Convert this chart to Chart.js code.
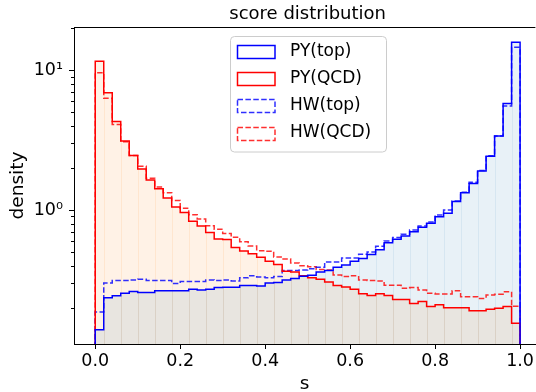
<!DOCTYPE html>
<html>
<head>
<meta charset="utf-8">
<style>
  html, body { margin: 0; padding: 0; background: #fff; }
  #wrap { width: 536px; height: 392px; }
</style>
<script src="https://cdn.jsdelivr.net/npm/chart.js@4.4.1/dist/chart.umd.min.js"></script>
</head>
<body>
<div id="wrap"><canvas id="scoreChart" width="536" height="392"></canvas></div>
<script>
// ------- histogram data: 50 bins of width 0.02 on [0, 1] -------

const binLow = 0.0;
const binWidth = 0.02;

const pyTop = [
    0.139, 0.236, 0.244, 0.254, 0.261, 0.257, 0.257, 0.264, 0.264, 0.264,
    0.264, 0.271, 0.268, 0.271, 0.279, 0.280, 0.280, 0.288, 0.288, 0.286,
    0.300, 0.303, 0.316, 0.323, 0.336, 0.342, 0.360, 0.369, 0.390, 0.405,
    0.430, 0.450, 0.480, 0.520, 0.584, 0.618, 0.652, 0.700, 0.752, 0.803,
    0.896, 0.947, 1.15, 1.33, 1.55, 1.90, 2.43, 3.39, 5.78, 15.9
];
const pyQcd = [
    11.6, 6.9, 4.3, 3.12, 2.46, 1.97, 1.64, 1.42, 1.22, 1.05,
    0.96, 0.83, 0.77, 0.69, 0.62, 0.615, 0.54, 0.51, 0.487, 0.46,
    0.43, 0.407, 0.365, 0.36, 0.338, 0.327, 0.32, 0.306, 0.288, 0.281,
    0.271, 0.252, 0.245, 0.252, 0.245, 0.229, 0.229, 0.214, 0.222, 0.204,
    0.21, 0.20, 0.20, 0.20, 0.19, 0.19, 0.195, 0.198, 0.204, 0.155
];
const hwTop = [
    0.186, 0.300, 0.313, 0.313, 0.316, 0.320, 0.313, 0.313, 0.313, 0.298,
    0.308, 0.308, 0.308, 0.316, 0.313, 0.316, 0.311, 0.327, 0.338, 0.332,
    0.327, 0.334, 0.369, 0.369, 0.373, 0.380, 0.390, 0.425, 0.425, 0.454,
    0.454, 0.483, 0.500, 0.550, 0.600, 0.635, 0.670, 0.720, 0.770, 0.820,
    0.920, 1.00, 1.16, 1.34, 1.58, 1.92, 2.45, 3.39, 5.55, 14.6
];
const hwQcd = [
    9.6, 6.3, 4.1, 3.08, 2.46, 2.06, 1.69, 1.46, 1.33, 1.17,
    1.03, 0.926, 0.862, 0.772, 0.728, 0.68, 0.638, 0.594, 0.553, 0.512,
    0.507, 0.462, 0.447, 0.418, 0.40, 0.392, 0.375, 0.373, 0.343, 0.334,
    0.338, 0.316, 0.313, 0.311, 0.29, 0.29, 0.276, 0.279, 0.268, 0.254,
    0.251, 0.251, 0.264, 0.24, 0.24, 0.233, 0.247, 0.25, 0.26, 0.205
];

const seriesLabels = ['PY(top)', 'PY(QCD)', 'HW(top)', 'HW(QCD)'];

const xTickValues = [0.0, 0.2, 0.4, 0.6, 0.8, 1.0];
const yTickValues = [1, 10];
const yTickLabels = ['10⁰', '10¹'];
const yMinorValues = [0.2, 0.3, 0.4, 0.5, 0.6, 0.7, 0.8, 0.9, 2, 3, 4, 5, 6, 7, 8, 9, 20];

const FONT = 'DejaVu Sans';
const BLUE = '#0000ff';
const RED = '#ff0000';
const BLUE_FILL = 'rgba(31,119,180,0.1)';
const ORANGE_FILL = 'rgba(255,127,14,0.1)';
const FLOOR = 0.01; // below the axis, closes the outline at the bottom

// histogram outline: up at the first edge, steps across, down at the last edge
function stepOutline(values) {
    const pts = [{x: binLow, y: FLOOR}];
    values.forEach((v, i) => {
        pts.push({x: binLow + i * binWidth, y: v});
        pts.push({x: binLow + (i + 1) * binWidth, y: v});
    });
    pts.push({x: binLow + values.length * binWidth, y: FLOOR});
    return pts;
}

function lineSet(label, values, color, dashed, fillColor) {
    return {
        label: label,
        data: stepOutline(values),
        borderColor: dashed ? color + 'd0' : color,
        borderWidth: 1.5,
        borderDash: dashed ? [5.5, 2.4] : [],
        borderJoinStyle: 'miter',
        pointRadius: 0,
        tension: 0,
        fill: fillColor ? 'start' : false,
        backgroundColor: fillColor || 'transparent'
    };
}

// faint seams between the filled bars (every other bin edge shows)
const seamPlugin = {
    id: 'seams',
    beforeDatasetsDraw(chart) {
        const {ctx, chartArea, scales: {x, y}} = chart;
        ctx.save();
        ctx.beginPath();
        ctx.rect(chartArea.left, chartArea.top, chartArea.right - chartArea.left, chartArea.bottom - chartArea.top);
        ctx.clip();
        ctx.lineWidth = 1;
        [[pyTop, 'rgba(31,119,180,0.09)'], [pyQcd, 'rgba(255,127,14,0.1)']].forEach(([vals, col]) => {
            ctx.strokeStyle = col;
            for (let k = 1; k < vals.length; k += 2) {
                const px = Math.round(x.getPixelForValue(binLow + k * binWidth)) + 0.5;
                const top = y.getPixelForValue(Math.min(vals[k - 1], vals[k]));
                ctx.beginPath();
                ctx.moveTo(px, chartArea.bottom);
                ctx.lineTo(px, top);
                ctx.stroke();
            }
        });
        ctx.restore();
    }
};

// title, top spine, minor log ticks and the legend box
const decorPlugin = {
    id: 'decor',
    afterDraw(chart) {
        const {ctx, chartArea, scales: {x, y}} = chart;
        ctx.save();

        // top spine
        ctx.strokeStyle = '#000';
        ctx.lineWidth = 1;
        ctx.beginPath();
        ctx.moveTo(chartArea.left, Math.round(chartArea.top) + 0.5);
        ctx.lineTo(chartArea.right, Math.round(chartArea.top) + 0.5);
        ctx.stroke();

        // minor ticks on the log axis
        yMinorValues.forEach(v => {
            if (v < y.min || v > y.max) return;
            const py = Math.round(y.getPixelForValue(v)) + 0.5;
            ctx.beginPath();
            ctx.moveTo(chartArea.left - 3, py);
            ctx.lineTo(chartArea.left, py);
            ctx.stroke();
        });

        // title centred over the data range
        ctx.fillStyle = '#000';
        ctx.font = '18px "' + FONT + '"';
        ctx.textAlign = 'center';
        ctx.textBaseline = 'alphabetic';
        ctx.fillText('score distribution', x.getPixelForValue(0.5), 19);

        // legend
        const bx = 230.5, by = 36.5, bw = 156, bh = 115.5;
        ctx.beginPath();
        ctx.roundRect(bx, by, bw, bh, 4);
        ctx.fillStyle = 'rgba(255,255,255,0.8)';
        ctx.fill();
        ctx.strokeStyle = '#cccccc';
        ctx.stroke();

        ctx.font = '17px "' + FONT + '"';
        chart.data.datasets.forEach((ds, i) => {
            const yc = 51.7 + 27.1 * i;
            ctx.setLineDash(ds.borderDash);
            ctx.strokeStyle = ds.borderColor;
            ctx.lineWidth = 1.5;
            ctx.strokeRect(237.5, Math.round(yc - 6.5) + 0.5, 37.5, 13);
            ctx.setLineDash([]);
            ctx.fillStyle = '#000';
            ctx.textAlign = 'left';
            ctx.textBaseline = 'middle';
            ctx.fillText(ds.label, 290, yc);
        });
        ctx.restore();
    }
};

const chartElement = document.getElementById('scoreChart');

const scoreChart = new Chart(chartElement, {
    type: 'line',
    data: {
        datasets: [
            lineSet(seriesLabels[0], pyTop, BLUE, false, BLUE_FILL),
            lineSet(seriesLabels[1], pyQcd, RED, false, ORANGE_FILL),
            lineSet(seriesLabels[2], hwTop, BLUE, true, null),
            lineSet(seriesLabels[3], hwQcd, RED, true, null)
        ]
    },
    options: {
        responsive: false,
        maintainAspectRatio: false,
        animation: false,
        devicePixelRatio: 1,
        layout: { padding: { top: 27, left: 0, right: 0, bottom: 0 } },
        plugins: {
            legend: { display: false },
            title: { display: false },
            tooltip: { enabled: false },
            filler: { drawTime: 'beforeDatasetsDraw' }
        },
        scales: {
            x: {
                type: 'linear',
                min: -0.05,
                max: 1.036,
                afterBuildTicks: s => { s.ticks = xTickValues.map(v => ({value: v})); },
                afterFit: s => { s.height = 48; },
                ticks: {
                    autoSkip: false,
                    maxRotation: 0,
                    color: '#000',
                    padding: 2,
                    font: { family: FONT, size: 17.5 },
                    callback: v => Number(v).toFixed(1)
                },
                grid: { drawOnChartArea: false, tickLength: 5, tickColor: '#000' },
                border: { color: '#000', width: 1 },
                title: {
                    display: true,
                    text: 's',
                    color: '#000',
                    font: { family: FONT, size: 18.5, lineHeight: 1 },
                    padding: { top: 0, bottom: -1.5 }
                }
            },
            y: {
                type: 'logarithmic',
                min: 0.11,
                max: 20.4,
                afterBuildTicks: s => { s.ticks = yTickValues.map(v => ({value: v})); },
                afterFit: s => { s.width = 74; },
                ticks: {
                    color: '#000',
                    padding: 6,
                    font: { family: FONT, size: 17.5 },
                    callback: v => yTickLabels[yTickValues.indexOf(v)] || ''
                },
                grid: { drawOnChartArea: false, tickLength: 5, tickColor: '#000' },
                border: { color: '#000', width: 1 },
                title: {
                    display: true,
                    text: 'density',
                    color: '#000',
                    font: { family: FONT, size: 18.5, lineHeight: 1.2 },
                    padding: { top: 7, bottom: 0 }
                }
            }
        }
    },
    plugins: [seamPlugin, decorPlugin]
});
</script>
</body>
</html>
